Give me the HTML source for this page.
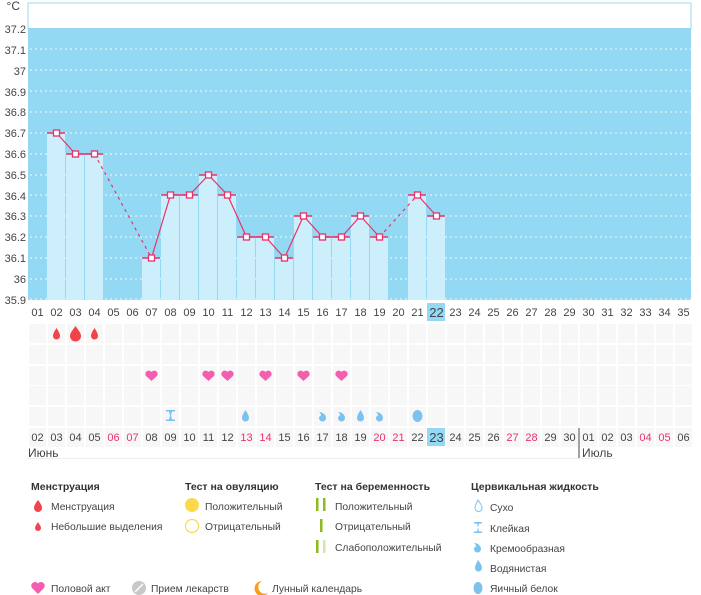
<!DOCTYPE html>
<html><head><meta charset="utf-8"><style>
html,body{margin:0;padding:0;background:#fff;width:701px;height:595px;overflow:hidden}
svg text{font-family:"Liberation Sans","DejaVu Sans",sans-serif;font-size:11px;fill:#444}
.b{font-weight:bold;fill:#333;font-size:10.5px}
.l{font-size:10.3px}
.r{fill:#e8336b}
</style></head><body>
<svg width="701" height="595" xmlns="http://www.w3.org/2000/svg">
<rect x="28" y="3" width="663" height="26" fill="#fff" stroke="#9ad9f2" stroke-width="1"/>
<rect x="28" y="28" width="663" height="272" fill="#93d9f3"/>
<g stroke="#fff" stroke-width="1" stroke-dasharray="2,3" opacity="0.9">
<line x1="30" x2="691" y1="49" y2="49"/><line x1="30" x2="691" y1="70" y2="70"/><line x1="30" x2="691" y1="91" y2="91"/><line x1="30" x2="691" y1="112" y2="112"/><line x1="30" x2="691" y1="133" y2="133"/><line x1="30" x2="691" y1="154" y2="154"/><line x1="30" x2="691" y1="175" y2="175"/><line x1="30" x2="691" y1="195" y2="195"/><line x1="30" x2="691" y1="216" y2="216"/><line x1="30" x2="691" y1="237" y2="237"/><line x1="30" x2="691" y1="258" y2="258"/><line x1="30" x2="691" y1="279" y2="279"/><line x1="30" x2="691" y1="299" y2="299"/>
</g>
<g text-anchor="end">
<text x="20" y="10" style="font-size:12px">°C</text>
<text x="26" y="33">37.2</text><text x="26" y="54">37.1</text><text x="26" y="75">37</text><text x="26" y="96">36.9</text><text x="26" y="116">36.8</text><text x="26" y="137">36.7</text><text x="26" y="158">36.6</text><text x="26" y="179">36.5</text><text x="26" y="200">36.4</text><text x="26" y="220">36.3</text><text x="26" y="241">36.2</text><text x="26" y="262">36.1</text><text x="26" y="283">36</text><text x="26" y="304">35.9</text>
</g>
<g fill="#cdeefb">
<rect x="47" y="133" width="18" height="167"/><rect x="66" y="154" width="18" height="146"/><rect x="85" y="154" width="18" height="146"/>
<rect x="142" y="258" width="18" height="42"/><rect x="161" y="195" width="18" height="105"/><rect x="180" y="195" width="18" height="105"/><rect x="199" y="175" width="18" height="125"/><rect x="218" y="195" width="18" height="105"/><rect x="237" y="237" width="18" height="63"/><rect x="256" y="237" width="18" height="63"/><rect x="275" y="258" width="18" height="42"/><rect x="294" y="216" width="18" height="84"/><rect x="313" y="237" width="18" height="63"/><rect x="332" y="237" width="18" height="63"/><rect x="351" y="216" width="18" height="84"/><rect x="370" y="237" width="18" height="63"/>
<rect x="408" y="195" width="18" height="105"/><rect x="427" y="216" width="18" height="84"/>
</g>
<g stroke="#e8336b" stroke-width="1.5">
<line x1="47" x2="65" y1="133" y2="133"/><line x1="66" x2="84" y1="154" y2="154"/><line x1="85" x2="103" y1="154" y2="154"/>
<line x1="142" x2="160" y1="258" y2="258"/><line x1="161" x2="179" y1="195" y2="195"/><line x1="180" x2="198" y1="195" y2="195"/><line x1="199" x2="217" y1="175" y2="175"/><line x1="218" x2="236" y1="195" y2="195"/><line x1="237" x2="255" y1="237" y2="237"/><line x1="256" x2="274" y1="237" y2="237"/><line x1="275" x2="293" y1="258" y2="258"/><line x1="294" x2="312" y1="216" y2="216"/><line x1="313" x2="331" y1="237" y2="237"/><line x1="332" x2="350" y1="237" y2="237"/><line x1="351" x2="369" y1="216" y2="216"/><line x1="370" x2="388" y1="237" y2="237"/>
<line x1="408" x2="426" y1="195" y2="195"/><line x1="427" x2="445" y1="216" y2="216"/>
</g>
<g fill="none" stroke="#e8336b" stroke-width="1.2">
<polyline points="56.5,133 75.5,154 94.5,154"/>
<polyline points="94.5,154 151.5,258" stroke-dasharray="3,4"/>
<polyline points="151.5,258 170.5,195 189.5,195 208.5,175 227.5,195 246.5,237 265.5,237 284.5,258 303.5,216 322.5,237 341.5,237 360.5,216 379.5,237"/>
<polyline points="379.5,237 417.5,195" stroke-dasharray="3,4"/>
<polyline points="417.5,195 436.5,216"/>
</g>
<g fill="#fff" stroke="#e8336b" stroke-width="1.3">
<rect x="53.5" y="130" width="6" height="6"/><rect x="72.5" y="151" width="6" height="6"/><rect x="91.5" y="151" width="6" height="6"/><rect x="148.5" y="255" width="6" height="6"/><rect x="167.5" y="192" width="6" height="6"/><rect x="186.5" y="192" width="6" height="6"/><rect x="205.5" y="172" width="6" height="6"/><rect x="224.5" y="192" width="6" height="6"/><rect x="243.5" y="234" width="6" height="6"/><rect x="262.5" y="234" width="6" height="6"/><rect x="281.5" y="255" width="6" height="6"/><rect x="300.5" y="213" width="6" height="6"/><rect x="319.5" y="234" width="6" height="6"/><rect x="338.5" y="234" width="6" height="6"/><rect x="357.5" y="213" width="6" height="6"/><rect x="376.5" y="234" width="6" height="6"/><rect x="414.5" y="192" width="6" height="6"/><rect x="433.5" y="213" width="6" height="6"/>
</g>
<rect x="427" y="303" width="18" height="18" fill="#93d9f3"/>
<g text-anchor="middle">
<text x="37.5" y="316">01</text><text x="56.5" y="316">02</text><text x="75.5" y="316">03</text><text x="94.5" y="316">04</text><text x="113.5" y="316">05</text><text x="132.5" y="316">06</text><text x="151.5" y="316">07</text><text x="170.5" y="316">08</text><text x="189.5" y="316">09</text><text x="208.5" y="316">10</text><text x="227.5" y="316">11</text><text x="246.5" y="316">12</text><text x="265.5" y="316">13</text><text x="284.5" y="316">14</text><text x="303.5" y="316">15</text><text x="322.5" y="316">16</text><text x="341.5" y="316">17</text><text x="360.5" y="316">18</text><text x="379.5" y="316">19</text><text x="398.5" y="316">20</text><text x="417.5" y="316">21</text><text x="436.5" y="317" style="font-size:13px">22</text><text x="455.5" y="316">23</text><text x="474.5" y="316">24</text><text x="493.5" y="316">25</text><text x="512.5" y="316">26</text><text x="531.5" y="316">27</text><text x="550.5" y="316">28</text><text x="569.5" y="316">29</text><text x="588.5" y="316">30</text><text x="607.5" y="316">31</text><text x="626.5" y="316">32</text><text x="645.5" y="316">33</text><text x="664.5" y="316">34</text><text x="683.5" y="316">35</text>
</g>
<defs>
<pattern id="row" x="28" y="0" width="19" height="600" patternUnits="userSpaceOnUse">
<rect x="1" y="0" width="17" height="600" fill="#f8f7f8"/>
</pattern>
</defs>
<rect x="28" y="324" width="665" height="19" fill="url(#row)"/>
<rect x="28" y="345" width="665" height="19" fill="url(#row)"/>
<rect x="28" y="366" width="665" height="19" fill="url(#row)"/>
<rect x="28" y="386" width="665" height="19" fill="url(#row)"/>
<rect x="28" y="407" width="665" height="19" fill="url(#row)"/>
<rect x="28" y="428" width="665" height="19" fill="url(#row)"/>
<g fill="#f0434a">
<path d="M56.5,328 C54,332 53,334 53,336 a3.5,3.5 0 0 0 7,0 C60,334 59,332 56.5,328Z"/>
<path d="M75.5,326 C72,331 70,333 70,336 a5.5,5.5 0 0 0 11,0 C81,333 79,331 75.5,326Z"/>
<path d="M94.5,328 C92,332 91,334 91,336 a3.5,3.5 0 0 0 7,0 C98,334 97,332 94.5,328Z"/>
</g>
<g fill="#f45eb0">
<path d="M151.5,381 L146,376 a3,3 0 0 1 5.5,-4 a3,3 0 0 1 5.5,4Z"/>
<path d="M208.5,381 L203,376 a3,3 0 0 1 5.5,-4 a3,3 0 0 1 5.5,4Z"/>
<path d="M227.5,381 L222,376 a3,3 0 0 1 5.5,-4 a3,3 0 0 1 5.5,4Z"/>
<path d="M265.5,381 L260,376 a3,3 0 0 1 5.5,-4 a3,3 0 0 1 5.5,4Z"/>
<path d="M303.5,381 L298,376 a3,3 0 0 1 5.5,-4 a3,3 0 0 1 5.5,4Z"/>
<path d="M341.5,381 L336,376 a3,3 0 0 1 5.5,-4 a3,3 0 0 1 5.5,4Z"/>
</g>
<g fill="#7cc2ee">
<path d="M166,410 h9 v1.5 h-3 l-1,4 1,4 h3 v1.5 h-9 v-1.5 h3 l1,-4 -1,-4 h-3Z"/>
<path d="M245.5,410 C243,414 242,416 242,418 a3.5,3.5 0 0 0 7,0 C249,416 248,414 245.5,410Z"/>
<path d="M319,412 c4,0 7,3 7,6 a3.5,3.5 0 0 1 -7,0 c0,-2 2,-2 2,-3 c0,-1 -1,-2 -2,-3Z"/>
<path d="M338,412 c4,0 7,3 7,6 a3.5,3.5 0 0 1 -7,0 c0,-2 2,-2 2,-3 c0,-1 -1,-2 -2,-3Z"/>
<path d="M360.5,410 C358,414 357,416 357,418 a3.5,3.5 0 0 0 7,0 C364,416 363,414 360.5,410Z"/>
<path d="M376,412 c4,0 7,3 7,6 a3.5,3.5 0 0 1 -7,0 c0,-2 2,-2 2,-3 c0,-1 -1,-2 -2,-3Z"/>
<ellipse cx="417.5" cy="416" rx="5" ry="6"/>
</g>
<rect x="427" y="428" width="18" height="18" fill="#93d9f3"/>
<g text-anchor="middle">
<text x="37.5" y="441">02</text><text x="56.5" y="441">03</text><text x="75.5" y="441">04</text><text x="94.5" y="441">05</text><text class="r" x="113.5" y="441">06</text><text class="r" x="132.5" y="441">07</text><text x="151.5" y="441">08</text><text x="170.5" y="441">09</text><text x="189.5" y="441">10</text><text x="208.5" y="441">11</text><text x="227.5" y="441">12</text><text class="r" x="246.5" y="441">13</text><text class="r" x="265.5" y="441">14</text><text x="284.5" y="441">15</text><text x="303.5" y="441">16</text><text x="322.5" y="441">17</text><text x="341.5" y="441">18</text><text x="360.5" y="441">19</text><text class="r" x="379.5" y="441">20</text><text class="r" x="398.5" y="441">21</text><text x="417.5" y="441">22</text><text x="436.5" y="442" style="font-size:13px">23</text><text x="455.5" y="441">24</text><text x="474.5" y="441">25</text><text x="493.5" y="441">26</text><text class="r" x="512.5" y="441">27</text><text class="r" x="531.5" y="441">28</text><text x="550.5" y="441">29</text><text x="569.5" y="441">30</text><text x="588.5" y="441">01</text><text x="607.5" y="441">02</text><text x="626.5" y="441">03</text><text class="r" x="645.5" y="441">04</text><text class="r" x="664.5" y="441">05</text><text x="683.5" y="441">06</text>
</g>
<line x1="579" x2="579" y1="428" y2="458" stroke="#444"/>
<line x1="28" x2="617" y1="458.5" y2="458.5" stroke="#eee"/>
<text x="28" y="457" style="font-size:12px">Июнь</text>
<text x="582" y="457" style="font-size:12px">Июль</text>
<text class="b" x="31" y="490">Менструация</text>
<text class="b" x="185" y="490">Тест на овуляцию</text>
<text class="b" x="315" y="490">Тест на беременность</text>
<text class="b" x="471" y="490">Цервикальная жидкость</text>
<path d="M38,500 C35,504 34,506 34,508 a4,4 0 0 0 8,0 C42,506 41,504 38,500Z" fill="#f0434a"/>
<text class="l" x="51" y="510">Менструация</text>
<path d="M38,522 C36,525 35,527 35,528 a3,3 0 0 0 6,0 C41,527 40,525 38,522Z" fill="#f0434a"/>
<text class="l" x="51" y="530">Небольшие выделения</text>
<circle cx="192" cy="505" r="7" fill="#fbd94a"/>
<text class="l" x="205" y="510">Положительный</text>
<circle cx="192" cy="526" r="6.5" fill="none" stroke="#fbd94a" stroke-width="1.2"/>
<text class="l" x="205" y="530">Отрицательный</text>
<rect x="316" y="498" width="2.5" height="13" fill="#8dbb1e"/><rect x="323" y="498" width="2.5" height="13" fill="#8dbb1e"/>
<text class="l" x="335" y="510">Положительный</text>
<rect x="320" y="519" width="2.5" height="13" fill="#8dbb1e"/>
<text class="l" x="335" y="530">Отрицательный</text>
<rect x="316" y="540" width="2.5" height="13" fill="#8dbb1e"/><rect x="323" y="540" width="2.5" height="13" fill="#d3e6a9"/>
<text class="l" x="335" y="551">Слабоположительный</text>
<path d="M478,500 C476,504 475,506 475,508 a3.5,3.5 0 0 0 7,0 C482,506 481,504 478,500Z" fill="none" stroke="#7cc2ee"/>
<text class="l" x="490" y="511">Сухо</text>
<path d="M474,522 h8 v1.5 h-3 l-1,4 1,4 h3 v1.5 h-8 v-1.5 h3 l1,-4 -1,-4 h-3Z" fill="#7cc2ee"/>
<text class="l" x="490" y="532">Клейкая</text>
<path d="M474,543 c4,0 7,3 7,6 a3.5,3.5 0 0 1 -7,0 c0,-2 2,-2 2,-3 c0,-1 -1,-2 -2,-3Z" fill="#7cc2ee"/>
<text class="l" x="490" y="552">Кремообразная</text>
<path d="M478,560 C476,564 475,566 475,568 a3.5,3.5 0 0 0 7,0 C482,566 481,564 478,560Z" fill="#7cc2ee"/>
<text class="l" x="490" y="572">Водянистая</text>
<ellipse cx="478" cy="588" rx="4.5" ry="6" fill="#7cc2ee"/>
<text class="l" x="490" y="592">Яичный белок</text>
<path d="M38,594 L32,588 a3.2,3.2 0 0 1 6,-4.5 a3.2,3.2 0 0 1 6,4.5Z" fill="#f45eb0"/>
<text class="l" x="51" y="592">Половой акт</text>
<circle cx="139" cy="588" r="7" fill="#c8c8c8"/><line x1="135" y1="592" x2="143" y2="584" stroke="#fff" stroke-width="1.5"/>
<text class="l" x="151" y="592">Прием лекарств</text>
<path d="M262,581 a7.5,7.5 0 1 0 6,12 a6,6 0 1 1 -6,-12Z" fill="#f5a01e"/>
<text class="l" x="272" y="592">Лунный календарь</text>
</svg>
</body></html>
